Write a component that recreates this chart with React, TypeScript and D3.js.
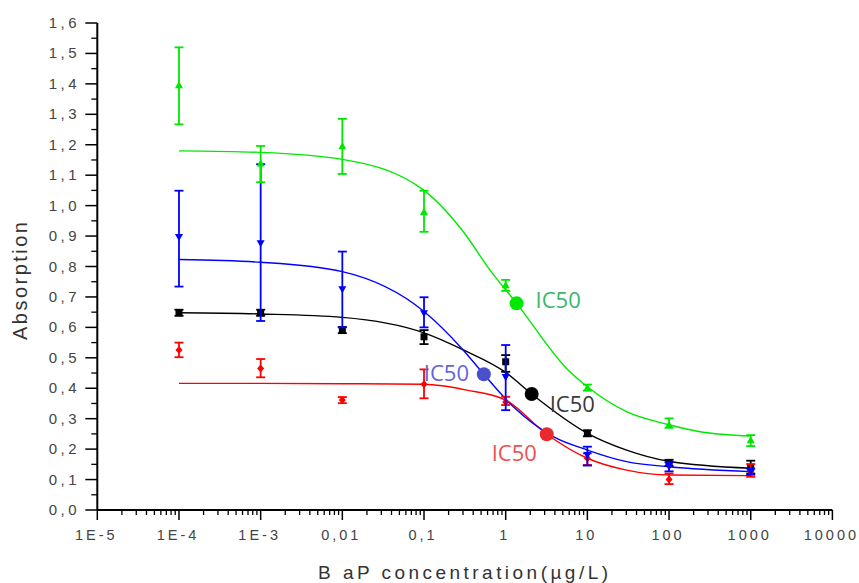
import React from "react";
import * as d3 from "d3";

// ---- data (BaP concentration in µg/L, absorption) ----
const concentrations = [1e-4, 1e-3, 0.01, 0.1, 1, 10, 100, 1000];

const greenMean = [1.396, 1.139, 1.196, 0.98, 0.739, 0.402, 0.28, 0.23];
const greenLow = [1.267, 1.077, 1.104, 0.914, 0.72, 0.392, 0.27, 0.21];
const greenHigh = [1.52, 1.196, 1.285, 1.049, 0.756, 0.412, 0.301, 0.246];

const blueMean = [0.896, 0.876, 0.725, 0.646, 0.436, 0.18, 0.142, 0.126];
const blueLow = [0.734, 0.621, 0.6, 0.6, 0.328, 0.146, 0.127, 0.116];
const blueHigh = [1.049, 1.136, 0.849, 0.699, 0.542, 0.208, 0.157, 0.136];

const blackMean = [0.648, 0.648, 0.591, 0.569, 0.487, 0.252, 0.155, 0.14];
const blackLow = [0.638, 0.638, 0.581, 0.545, 0.454, 0.242, 0.145, 0.12];
const blackHigh = [0.658, 0.658, 0.601, 0.591, 0.509, 0.262, 0.165, 0.162];

const redMean = [0.526, 0.465, 0.361, 0.413, 0.355, 0.17, 0.1, 0.126];
const redLow = [0.502, 0.436, 0.351, 0.367, 0.345, 0.148, 0.085, 0.109];
const redHigh = [0.55, 0.496, 0.371, 0.462, 0.372, 0.186, 0.12, 0.151];

// fitted curves
const greenCurveX = [1e-4, 1e-3, 0.01, 0.1, 0.303, 0.643, 1.36, 5.8, 10, 30.2, 100, 240, 1000];
const greenCurveY = [1.18, 1.175, 1.152, 1.05, 0.914, 0.788, 0.679, 0.46, 0.405, 0.323, 0.28, 0.257, 0.243];

const blueCurveX = [1e-4, 1e-3, 0.01, 0.1, 0.303, 0.54, 1.24, 3.83, 10, 30.2, 100, 1000];
const blueCurveY = [0.823, 0.814, 0.783, 0.652, 0.525, 0.446, 0.339, 0.241, 0.197, 0.159, 0.142, 0.126];

const blackCurveX = [1e-4, 1e-3, 0.01, 0.1, 0.303, 1, 2.08, 10, 30.2, 100, 1000];
const blackCurveY = [0.648, 0.644, 0.633, 0.582, 0.526, 0.452, 0.381, 0.252, 0.197, 0.16, 0.137];

const redCurveX = [1e-4, 1e-3, 0.01, 0.1, 0.333, 1, 3.18, 10, 30.2, 100, 1000];
const redCurveY = [0.416, 0.416, 0.415, 0.413, 0.394, 0.361, 0.249, 0.17, 0.131, 0.115, 0.113];

// IC50 points
const ic50Names = ["green", "blue", "black", "red"];
const ic50X = [1.36, 0.54, 2.08, 3.18];
const ic50Y = [0.679, 0.446, 0.381, 0.249];

const xTickValues = [1e-5, 1e-4, 1e-3, 0.01, 0.1, 1, 10, 100, 1000, 10000];
const xTickLabels = ["1E-5", "1E-4", "1E-3", "0,01", "0,1", "1", "10", "100", "1000", "10000"];
const yTickValues = [0, 0.1, 0.2, 0.3, 0.4, 0.5, 0.6, 0.7, 0.8, 0.9, 1.0, 1.1, 1.2, 1.3, 1.4, 1.5, 1.6];
const yTickLabels = ["0,0", "0,1", "0,2", "0,3", "0,4", "0,5", "0,6", "0,7", "0,8", "0,9", "1,0", "1,1", "1,2", "1,3", "1,4", "1,5", "1,6"];

const W = 859;
const H = 583;
const x = d3.scaleLog().domain([1e-5, 1e4]).range([97.3, 832.4]);
const y = d3.scaleLinear().domain([0, 1.6]).range([510, 23]);

type Series = {
  name: string;
  color: string;
  mean: number[];
  low: number[];
  high: number[];
  cx: number[];
  cy: number[];
  marker: "up" | "down" | "square" | "diamond";
  ic50Color: string;
  labelColor: string;
  labelDx: number;
  labelDy: number;
};

const series: Series[] = [
  { name: "black", color: "#000000", mean: blackMean, low: blackLow, high: blackHigh, cx: blackCurveX, cy: blackCurveY, marker: "square", ic50Color: "#000000", labelColor: "#3a3a3a", labelDx: 18, labelDy: 18 },
  { name: "red", color: "#ff0000", mean: redMean, low: redLow, high: redHigh, cx: redCurveX, cy: redCurveY, marker: "diamond", ic50Color: "#e82a2e", labelColor: "#f05050", labelDx: -55, labelDy: 27 },
  { name: "blue", color: "#0000ff", mean: blueMean, low: blueLow, high: blueHigh, cx: blueCurveX, cy: blueCurveY, marker: "down", ic50Color: "#4a50cc", labelColor: "#6464dc", labelDx: -60, labelDy: 7 },
  { name: "green", color: "#00e800", mean: greenMean, low: greenLow, high: greenHigh, cx: greenCurveX, cy: greenCurveY, marker: "up", ic50Color: "#00e800", labelColor: "#38b868", labelDx: 19, labelDy: 5 },
];

function markerPath(kind: string, px: number, py: number) {
  const s = 4;
  if (kind === "up") return `M${px},${py - s}L${px + s},${py + s * 0.8}L${px - s},${py + s * 0.8}Z`;
  if (kind === "down") return `M${px},${py + s}L${px + s},${py - s * 0.8}L${px - s},${py - s * 0.8}Z`;
  if (kind === "square") return `M${px - 3.5},${py - 3.5}h7v7h-7Z`;
  return `M${px},${py - 4}L${px + 3.5},${py}L${px},${py + 4}L${px - 3.5},${py}Z`;
}

export default function App() {
  const line = d3
    .line<[number, number]>()
    .x((d) => x(d[0]))
    .y((d) => y(d[1]))
    .curve(d3.curveMonotoneX);

  const minorX: number[] = [];
  for (let e = -5; e < 4; e++) {
    for (let m = 2; m <= 9; m++) minorX.push(m * Math.pow(10, e));
  }
  const minorY: number[] = [];
  for (let v = 0.05; v < 1.6; v += 0.1) minorY.push(v);

  const font = "'Liberation Sans', Arial, sans-serif";

  return (
    <svg width={W} height={H} style={{ position: "absolute", left: 0, top: 0, background: "#fff" }}>
      {/* curves */}
      {series.map((s) => (
        <path
          key={"c" + s.name}
          d={line(s.cx.map((v, i) => [v, s.cy[i]] as [number, number])) || ""}
          fill="none"
          stroke={s.color}
          strokeWidth={1.4}
        />
      ))}
      {/* error bars + markers */}
      {series.map((s) => (
        <g key={"e" + s.name}>
          {concentrations.map((c, i) => {
            const px = x(c);
            return (
              <g key={i}>
                <line x1={px} x2={px} y1={y(s.low[i])} y2={y(s.high[i])} stroke={s.color} strokeWidth={1.8} />
                <line x1={px - 4.5} x2={px + 4.5} y1={y(s.low[i])} y2={y(s.low[i])} stroke={s.color} strokeWidth={1.8} />
                <line x1={px - 4.5} x2={px + 4.5} y1={y(s.high[i])} y2={y(s.high[i])} stroke={s.color} strokeWidth={1.8} />
                <path d={markerPath(s.marker, px, y(s.mean[i]))} fill={s.color} />
              </g>
            );
          })}
        </g>
      ))}
      {/* IC50 points and labels */}
      {ic50Names.map((n, i) => {
        const s = series.find((q) => q.name === n)!;
        const px = x(ic50X[i]);
        const py = y(ic50Y[i]);
        return (
          <g key={"ic" + n}>
            <circle cx={px} cy={py} r={7} fill={s.ic50Color} />
            <text x={px + s.labelDx} y={py + s.labelDy} fontFamily="'Open Sans', sans-serif" fontSize={22} fill={s.labelColor}>
              IC50
            </text>
          </g>
        );
      })}
      {/* axes */}
      <line x1={x(1e-5)} x2={x(1e4)} y1={y(0)} y2={y(0)} stroke="#000" strokeWidth={2} />
      <line x1={x(1e-5)} x2={x(1e-5)} y1={y(0)} y2={y(1.6)} stroke="#000" strokeWidth={2} />
      {xTickValues.map((v) => (
        <line key={"xt" + v} x1={x(v)} x2={x(v)} y1={y(0)} y2={y(0) + 10} stroke="#000" strokeWidth={1.5} />
      ))}
      {minorX.map((v, i) => (
        <line key={"xm" + i} x1={x(v)} x2={x(v)} y1={y(0)} y2={y(0) + 5} stroke="#000" strokeWidth={1.3} />
      ))}
      {yTickValues.map((v) => (
        <line key={"yt" + v} x1={x(1e-5) - 12} x2={x(1e-5)} y1={y(v)} y2={y(v)} stroke="#000" strokeWidth={1.5} />
      ))}
      {minorY.map((v, i) => (
        <line key={"ym" + i} x1={x(1e-5) - 6} x2={x(1e-5)} y1={y(v)} y2={y(v)} stroke="#000" strokeWidth={1.3} />
      ))}
      {xTickValues.map((v, i) => (
        <text key={"xl" + i} x={x(v) - 1} y={540} textAnchor="middle" fontFamily={font} fontSize={14.5} letterSpacing={3} fill="#444">
          {xTickLabels[i]}
        </text>
      ))}
      {yTickValues.map((v, i) => (
        <text key={"yl" + i} x={80} y={y(v) + 5} textAnchor="end" fontFamily={font} fontSize={15} letterSpacing={3.5} fill="#444">
          {yTickLabels[i]}
        </text>
      ))}
      <text x={318} y={579} fontFamily={font} fontSize={19} textLength={290} lengthAdjust="spacing" fill="#333">
        B aP concentration(µg/L)
      </text>
      <text transform="translate(27,281) rotate(-90)" textAnchor="middle" fontFamily={font} fontSize={20} textLength={118} lengthAdjust="spacing" fill="#333">
        Absorption
      </text>
    </svg>
  );
}
